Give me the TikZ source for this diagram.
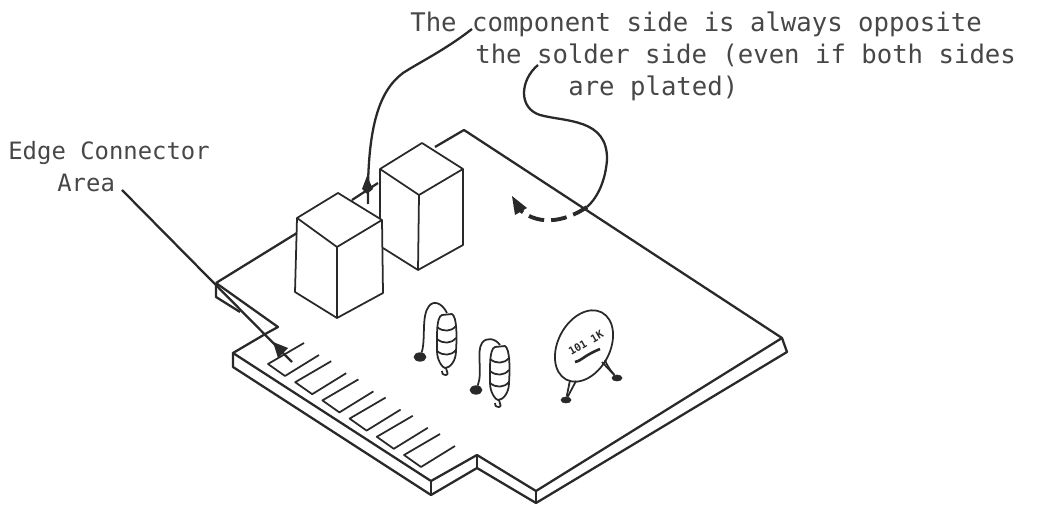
\documentclass[tikz,border=0pt]{standalone}
\usepackage{fontspec}
\setmonofont{DejaVu Sans Mono}
\usetikzlibrary{shapes.geometric,arrows.meta,positioning}
\definecolor{inkline}{gray}{0.16}
\definecolor{inktext}{gray}{0.28}

\begin{document}
\begin{tikzpicture}[
  x=0.02cm, y=-0.02cm,
  edgeline/.style={draw=inkline, line width=1.3pt, line join=round},
  thinline/.style={draw=inkline, line width=1pt, line join=round},
  leader/.style={draw=inkline, line width=1.3pt},
  toplabel/.style={text=inktext, font=\ttfamily\fontsize{14.6}{18}\selectfont, anchor=base west, inner sep=0pt},
  sidelabel/.style={text=inktext, font=\ttfamily\fontsize{13.6}{18}\selectfont, anchor=base west, inner sep=0pt},
  blob/.style={fill=inkline, draw=inkline, ellipse, inner sep=0pt, minimum width=0.24cm, minimum height=0.17cm}
]
  \useasboundingbox (0,0) rectangle (1041,506);

  % labels
  \node[toplabel] (lineone) at (410,32) {The component side is always opposite};
  \node[toplabel] (linetwo) at (475,64) {the solder side (even if both sides};
  \node[toplabel] (linethree) at (568,96) {are plated)};
  \node[sidelabel] (edgeone) at (8,160) {Edge Connector};
  \node[sidelabel] (edgetwo) at (57,192) {Area};

  % board
  \draw[edgeline] (216,283) -- (297,233);
  \draw[edgeline] (352,200) -- (378,183);
  \draw[edgeline] (435,147) -- (464,130) -- (782,338) -- (536,491) -- (477,455) -- (431,481) -- (233,353) -- (267,333) -- (278,327) -- (216,283);
  \draw[edgeline] (216,283) -- (216,297) -- (240,312);
  \draw[edgeline] (233,353) -- (233,367) -- (431,495) -- (477,468) -- (536,503) -- (787,352) -- (782,338);
  \draw[edgeline] (431,481) -- (431,495);
  \draw[edgeline] (477,455) -- (477,468);
  \draw[edgeline] (536,491) -- (536,503);

  % fingers
  \foreach \n in {0,...,5}
    \draw[thinline, shift={(27.2*\n,18.2*\n)}] (304,343) -- (268,364) -- (285,376) -- (319,355);

  % parts
  \draw[thinline] (338,193) -- (382,220) -- (337,247) -- (297,218) -- cycle;
  \draw[thinline] (297,218) -- (295,292) -- (337,318) -- (383,293) -- (382,220);
  \draw[thinline] (337,247) -- (337,318);
  \draw[thinline] (422,143) -- (463,169) -- (419,195) -- (380,169) -- cycle;
  \draw[thinline] (380,169) -- (380,219);
  \draw[thinline] (383,248) -- (418,270) -- (463,245) -- (463,169);
  \draw[thinline] (419,195) -- (418,270);

  % resistors
  \foreach \px/\py in {447/313, 500/345} {
    \draw[thinline, shift={(\px,\py)}] (-5,2) .. controls (-11,4) and (-10,24) .. (-10,38) .. controls (-10,48) and (-4,55) .. (-2,55) .. controls (3,55) and (9,48) .. (9,38) .. controls (10,24) and (10,4) .. (5,1) -- cycle;
    \foreach \ya in {14,26,38}
      \draw[thinline, shift={(\px,\py)}] (-10,\ya) .. controls (-4,\ya+5) and (4,\ya+5) .. (9,\ya-1);
    \draw[thinline, shift={(\px,\py)}] (-1,55) .. controls (0,60) and (2,61) .. (-1,62) .. controls (-4,62) and (-6,60) .. (-5,58);
  }
  \node[blob] (leadone) at (420,357) {};
  \node[blob] (leadtwo) at (476,390) {};
  \draw[thinline] (447,313) .. controls (442,303) and (434,300) .. (429,306) .. controls (421,316) and (426,340) .. (leadone);
  \draw[thinline] (500,345) .. controls (495,338) and (486,337) .. (482,343) .. controls (476,352) and (483,372) .. (leadtwo);

  % capacitor
  \node[ellipse, thinline, minimum width=1.52cm, minimum height=1.04cm, rotate=62, inner sep=0pt] (capbody) at (584,346) {};
  \node[text=inkline, font=\ttfamily\bfseries\fontsize{6}{6}\selectfont, rotate=30, inner sep=0pt] (capvalue) at (586,343) {101 1K};
  \draw[inkline, line width=1.5pt] (575,362) .. controls (583,360) and (583,356) .. (600,349);
  \node[blob, minimum width=0.2cm, minimum height=0.12cm] (footleft) at (566,400) {};
  \node[blob, minimum width=0.2cm, minimum height=0.12cm] (footright) at (617,378) {};
  \draw[thinline] (570,380) -- (footleft);
  \draw[thinline] (576,381) -- (footleft);
  \draw[thinline] (602,362) -- (footright);
  \draw[thinline] (605,360) .. controls (608,368) and (612,372) .. (footright);

  % arrows
  \coordinate (compstart) at (472,29);
  \coordinate (comptip) at (368,204);
  \draw[leader] (compstart) .. controls (445,50) and (420,62) .. (403,73) .. controls (380,90) and (367,125) .. (comptip);
  \fill[inkline] (367,176) -- (373,189) -- (367,194) -- (362,189) -- cycle;
  \coordinate (edgestart) at (122,190);
  \coordinate (edgetip) at (292,362);
  \draw[leader] (edgestart) -- (edgetip);
  \fill[inkline] (273,342) -- (288,348) -- (283,353) -- (278,358) -- cycle;
  \coordinate (soldstart) at (538,65);
  \coordinate (soldend) at (587,207);
  \coordinate (soldtip) at (515,205);
  \draw[leader] (soldstart) .. controls (520,80) and (518,108) .. (540,115) .. controls (565,122) and (608,118) .. (607,160) .. controls (605,185) and (595,200) .. (soldend);
  \draw[leader, line width=2.2pt, dash pattern=on 9pt off 4pt] (soldend) .. controls (565,222) and (535,228) .. (soldtip);
  \fill[inkline] (512,196) -- (527,208) -- (515,215) -- cycle;
\end{tikzpicture}
\end{document}
